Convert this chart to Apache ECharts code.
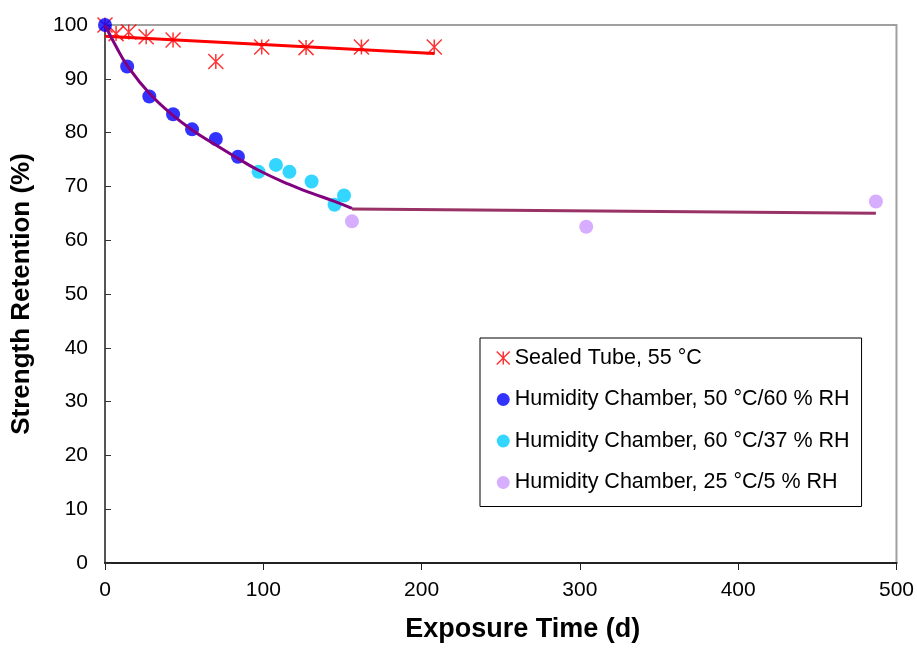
<!DOCTYPE html>
<html>
<head>
<meta charset="utf-8">
<script src="https://cdn.jsdelivr.net/npm/echarts@6/dist/echarts.min.js"></script>
<style>html,body{margin:0;padding:0;background:#fff}#c{width:917px;height:648px}</style>
</head>
<body>
<div id="c"></div>
<script>
const xTicks = [0, 100, 200, 300, 400, 500];
const yTicks = [0, 10, 20, 30, 40, 50, 60, 70, 80, 90, 100];

const sealedX = [0, 7, 15, 26, 43, 70, 99, 127, 162, 208];
const sealedY = [100, 98.4, 98.7, 97.8, 97.2, 93.2, 95.9, 95.8, 95.9, 95.9];

const hc50X = [0, 14, 28, 43, 55, 70, 84];
const hc50Y = [100, 92.3, 86.7, 83.4, 80.6, 78.8, 75.5];

const hc60X = [97, 108, 116.5, 130.5, 145, 151];
const hc60Y = [72.7, 74.0, 72.7, 70.9, 66.6, 68.3];

const hc25X = [156, 304, 487];
const hc25Y = [63.5, 62.5, 67.2];

const sealedFitX = [0, 208];
const sealedFitY = [97.9, 94.7];

const curveX = [0, 7, 14, 28, 43, 55, 70, 84, 97, 116, 130, 145, 156];
const curveY = [100, 96.0, 92.5, 87.3, 83.2, 80.5, 77.7, 75.2, 73.0, 70.4, 68.8, 67.2, 65.9];

const flatX = [156, 487];
const flatY = [65.8, 65.0];

const names = ['Sealed Tube, 55 °C', 'Humidity Chamber, 50 °C/60 % RH', 'Humidity Chamber, 60 °C/37 % RH', 'Humidity Chamber, 25 °C/5 % RH'];

const zip = (xs, ys) => xs.map((x, i) => [x, ys[i]]);
const starPath = 'path://M5,0L5,10M0,0L10,10M0,10L10,0';
const FONT = '"Liberation Sans", Arial, sans-serif';

const chart = echarts.init(document.getElementById('c'), null, {renderer: 'canvas'});
chart.setOption({
  backgroundColor: '#fff',
  animation: false,
  grid: {left: 105, right: 18, top: 25, bottom: 82, show: true, borderColor: '#a0a0a0', borderWidth: 2},
  xAxis: {
    type: 'value', min: 0, max: 500, interval: 100,
    name: 'Exposure Time (d)', nameLocation: 'middle', nameGap: 53,
    nameTextStyle: {fontFamily: FONT, fontWeight: 'bold', fontSize: 27, color: '#000', padding: [0, 0, 0, 44]},
    axisLine: {show: true, onZero: false, lineStyle: {color: '#222', width: 2}},
    axisTick: {show: true, inside: false, length: 7, lineStyle: {color: '#222', width: 1}},
    axisLabel: {fontFamily: FONT, fontSize: 21, color: '#000', margin: 17},
    splitLine: {show: false}
  },
  yAxis: {
    type: 'value', min: 0, max: 100, interval: 10,
    name: 'Strength Retention (%)', nameLocation: 'middle', nameGap: 70,
    nameTextStyle: {fontFamily: FONT, fontWeight: 'bold', fontSize: 26, color: '#000'},
    axisLine: {show: true, onZero: false, lineStyle: {color: '#555', width: 2}},
    axisTick: {show: true, inside: true, length: 6, lineStyle: {color: '#333', width: 1}},
    axisLabel: {fontFamily: FONT, fontSize: 21, color: '#000', margin: 17},
    splitLine: {show: false}
  },
  legend: {
    orient: 'vertical', left: 480, top: 338,
    padding: [9, 12, 13, 16], itemGap: 19.5, itemWidth: 13, itemHeight: 13,
    borderColor: '#000', borderWidth: 1, backgroundColor: '#fff',
    textStyle: {fontFamily: FONT, fontSize: 21.5, color: '#000', lineHeight: 21.5},
    data: [
      {name: names[0], icon: starPath, itemStyle: {color: '#ff0000', borderColor: '#ff0000', borderWidth: 1.5}},
      {name: names[1], icon: 'circle'},
      {name: names[2], icon: 'circle'},
      {name: names[3], icon: 'circle'}
    ]
  },
  series: [
    {name: names[0], type: 'scatter', data: zip(sealedX, sealedY), symbol: starPath, symbolSize: 15,
     itemStyle: {color: '#ff0000', borderColor: '#ff0000', borderWidth: 1.5}, z: 3},
    {name: names[1], type: 'scatter', data: zip(hc50X, hc50Y), symbol: 'circle', symbolSize: 14,
     itemStyle: {color: '#0000ff'}, z: 3},
    {name: names[2], type: 'scatter', data: zip(hc60X, hc60Y), symbol: 'circle', symbolSize: 14,
     itemStyle: {color: '#00ccff'}, z: 3},
    {name: names[3], type: 'scatter', data: zip(hc25X, hc25Y), symbol: 'circle', symbolSize: 14,
     itemStyle: {color: '#cc99ff'}, z: 3},
    {name: 'sealedFit', type: 'line', data: zip(sealedFitX, sealedFitY), showSymbol: false, symbol: 'none',
     lineStyle: {color: '#ff0000', width: 3}, z: 4, silent: true},
    {name: 'curveFit', type: 'line', data: zip(curveX, curveY), showSymbol: false, symbol: 'none', smooth: 0.5,
     lineStyle: {color: '#800080', width: 3}, z: 4, silent: true},
    {name: 'flatFit', type: 'line', data: zip(flatX, flatY), showSymbol: false, symbol: 'none',
     lineStyle: {color: '#993366', width: 3}, z: 4, silent: true}
  ]
});
</script>
</body>
</html>
